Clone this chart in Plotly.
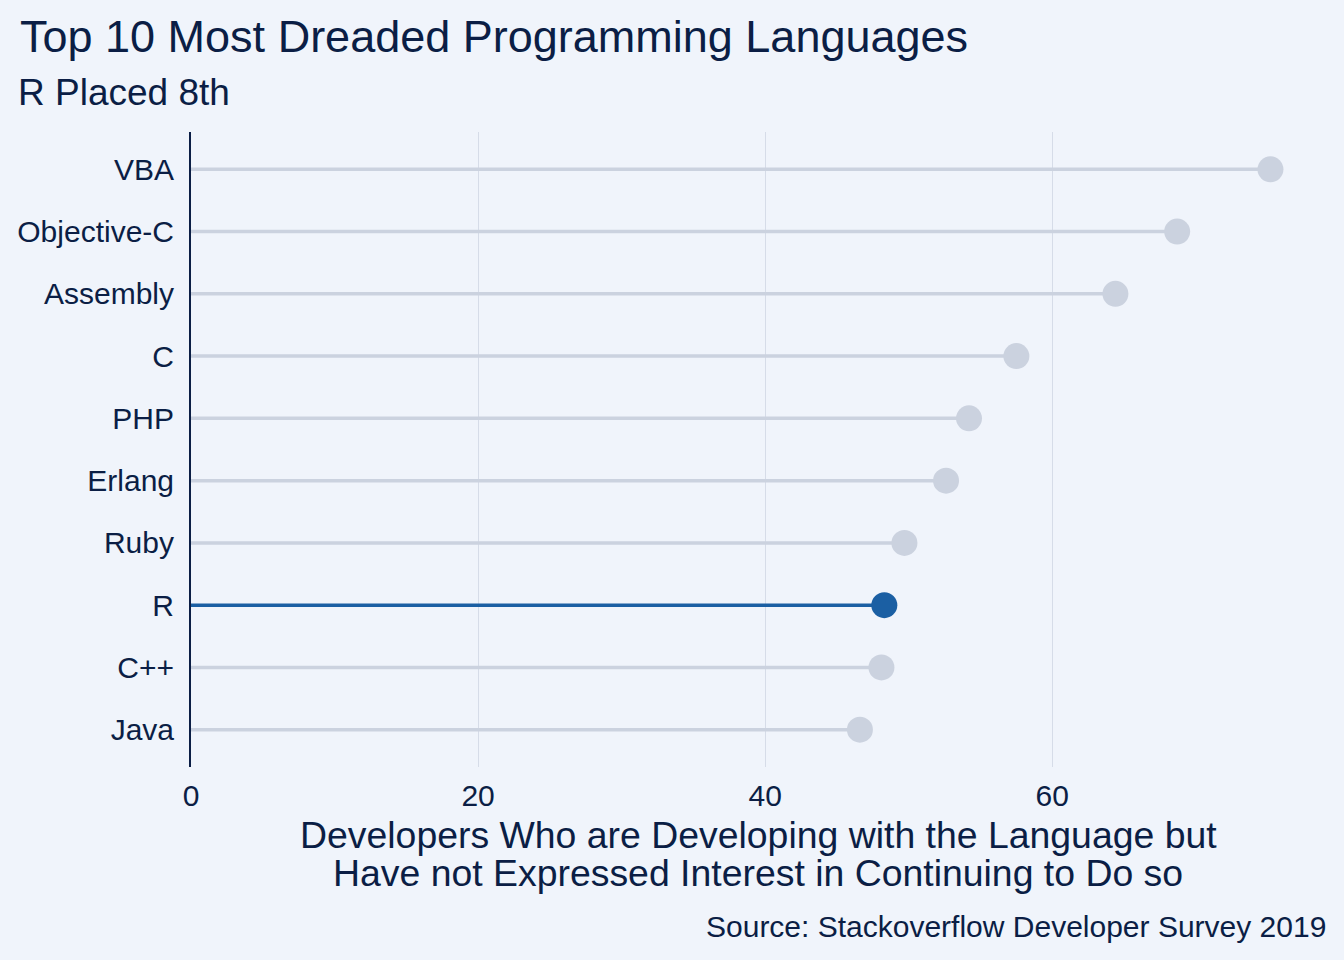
import plotly.graph_objects as go

languages = ["Java", "C++", "R", "Ruby", "Erlang", "PHP", "C", "Assembly", "Objective-C", "VBA"]
dreaded = [46.6, 48.1, 48.3, 49.7, 52.6, 54.2, 57.5, 64.4, 68.7, 75.2]
highlight = "R"
x_ticks = [0, 20, 40, 60]

title = "Top 10 Most Dreaded Programming Languages"
subtitle = "R Placed 8th"
xtitle_lines = ["Developers Who are Developing with the Language but",
                "Have not Expressed Interest in Continuing to Do so"]
caption = "Source: Stackoverflow Developer Survey 2019"

BG = "#F0F4FB"
NAVY = "#0B1E45"
GRAY = "#CBD2DF"
BLUE = "#1B5FA3"
FONT = "Liberation Sans, Arial, sans-serif"

W, H = 1344, 960
L, R_, T, B = 191, 19, 132, 193
pw, ph = W - L - R_, H - T - B

def px(x):
    return (x - L) / pw

def py(y):
    return (H - B - y) / ph

fig = go.Figure()

for is_hl, color in [(False, GRAY), (True, BLUE)]:
    xs, ys = [], []
    for lang, v in zip(languages, dreaded):
        if (lang == highlight) == is_hl:
            xs += [0, v, None]
            ys += [lang, lang, None]
    fig.add_trace(go.Scatter(x=xs, y=ys, mode="lines",
                             line=dict(color=color, width=3.5),
                             hoverinfo="skip", showlegend=False))
    mx = [v for lang, v in zip(languages, dreaded) if (lang == highlight) == is_hl]
    my = [lang for lang in languages if (lang == highlight) == is_hl]
    fig.add_trace(go.Scatter(x=mx, y=my, mode="markers",
                             marker=dict(color=color, size=26, line=dict(width=0)),
                             showlegend=False))

annotations = [
    dict(text=title, x=px(18), y=py(36), xanchor="left", yanchor="middle",
         font=dict(size=45, color=NAVY, family=FONT)),
    dict(text=subtitle, x=px(16), y=py(93), xanchor="left", yanchor="middle",
         font=dict(size=37, color=NAVY, family=FONT)),
    dict(text=xtitle_lines[0], x=px(758), y=py(835), xanchor="center", yanchor="middle",
         font=dict(size=37.4, color=NAVY, family=FONT)),
    dict(text=xtitle_lines[1], x=px(758), y=py(873), xanchor="center", yanchor="middle",
         font=dict(size=37.4, color=NAVY, family=FONT)),
    dict(text=caption, x=px(1328), y=py(926), xanchor="right", yanchor="middle",
         font=dict(size=30, color=NAVY, family=FONT)),
]
for a in annotations:
    a.update(xref="paper", yref="paper", showarrow=False)

fig.update_layout(
    width=W, height=H,
    margin=dict(l=L, r=R_, t=T, b=B, pad=0),
    paper_bgcolor=BG, plot_bgcolor=BG,
    font=dict(family=FONT, color=NAVY),
    annotations=annotations,
    showlegend=False,
    xaxis=dict(range=[0, 79.0], tickvals=x_ticks, ticktext=[str(t) for t in x_ticks],
               showgrid=True, gridcolor="#D6DCE8", gridwidth=1,
               zeroline=False, showline=False, ticks="",
               tickfont=dict(size=30, color=NAVY, family=FONT),
               ticklabelstandoff=8, fixedrange=True),
    yaxis=dict(type="category", categoryorder="array", categoryarray=languages,
               range=[-0.6, 9.6], showgrid=False, zeroline=False,
               showline=True, linecolor=NAVY, linewidth=2, ticks="",
               tickfont=dict(size=30, color=NAVY, family=FONT),
               ticklabelstandoff=9, fixedrange=True),
)

fig.write_html("out.html")
